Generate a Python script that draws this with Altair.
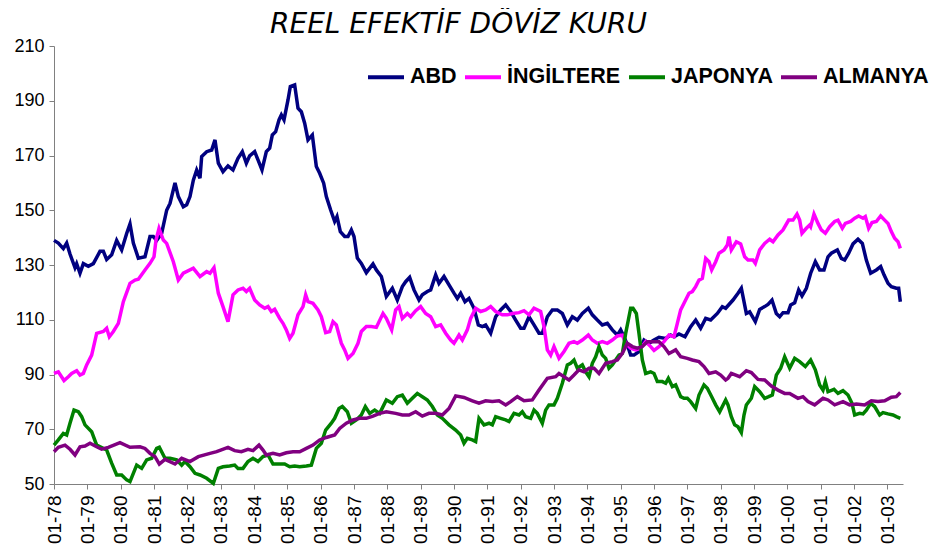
import altair as alt
import pandas as pd

series_names = ["ABD", "İNGİLTERE", "JAPONYA", "ALMANYA"]
series_colors = ["#000080", "#FF00FF", "#008000", "#800080"]
tick_years = list(range(1978, 2004))
y_ticks = [50, 70, 90, 110, 130, 150, 170, 190, 210]

abd_t = [1978.00, 1978.13, 1978.28, 1978.38, 1978.48, 1978.63, 1978.68, 1978.78, 1978.88, 1979.03,
         1979.18, 1979.38, 1979.48, 1979.58, 1979.73, 1979.88, 1980.03, 1980.18, 1980.28, 1980.38,
         1980.53, 1980.73, 1980.88, 1980.98, 1981.08, 1981.23, 1981.38, 1981.48, 1981.63, 1981.73,
         1981.88, 1981.98, 1982.08, 1982.18, 1982.28, 1982.38, 1982.43, 1982.58, 1982.73, 1982.83,
         1982.93, 1983.07, 1983.22, 1983.37, 1983.52, 1983.65, 1983.77, 1983.87, 1984.02, 1984.12,
         1984.24, 1984.37, 1984.47, 1984.55, 1984.65, 1984.75, 1984.82, 1984.90, 1985.02, 1985.09,
         1985.22, 1985.32, 1985.42, 1985.52, 1985.62, 1985.75, 1985.87, 1985.97, 1986.09, 1986.17,
         1986.30, 1986.42, 1986.49, 1986.59, 1986.72, 1986.82, 1986.92, 1987.00, 1987.10, 1987.22,
         1987.37, 1987.57, 1987.67, 1987.82, 1987.97, 1988.15, 1988.30, 1988.45, 1988.55, 1988.67,
         1988.80, 1988.95, 1989.05, 1989.20, 1989.30, 1989.45, 1989.55, 1989.70, 1989.85, 1990.00,
         1990.10, 1990.20, 1990.33, 1990.45, 1990.60, 1990.73, 1990.85, 1990.95, 1991.10, 1991.25,
         1991.40, 1991.55, 1991.70, 1991.85, 1992.00, 1992.10, 1992.25, 1992.40, 1992.55, 1992.65,
         1992.80, 1992.95, 1993.10, 1993.25, 1993.40, 1993.55, 1993.70, 1993.85, 1994.03, 1994.15,
         1994.30, 1994.45, 1994.60, 1994.75, 1994.90, 1995.00, 1995.10, 1995.20, 1995.30, 1995.40,
         1995.55, 1995.70, 1995.85, 1996.00, 1996.15, 1996.35, 1996.50, 1996.60, 1996.75, 1996.93,
         1997.10, 1997.25, 1997.40, 1997.55, 1997.70, 1997.90, 1998.05, 1998.15, 1998.37, 1998.52,
         1998.62, 1998.77, 1998.87, 1999.04, 1999.17, 1999.32, 1999.42, 1999.54, 1999.67, 1999.77,
         1999.87, 2000.02, 2000.10, 2000.22, 2000.34, 2000.44, 2000.57, 2000.70, 2000.84, 2000.97,
         2001.10, 2001.22, 2001.32, 2001.50, 2001.62, 2001.72, 2001.84, 2001.97, 2002.12, 2002.25,
         2002.37, 2002.50, 2002.67, 2002.80, 2002.90, 2003.02, 2003.12, 2003.27, 2003.34, 2003.39]
abd_v = [139, 138, 136, 138, 134, 129, 130.5, 127, 130.5, 129.5,
         130.5, 135, 135, 132, 133.7, 139, 135.5, 141.5, 145, 138,
         132.5, 133, 140.4, 140.4, 139, 141.6, 150, 152.5, 160, 155,
         151.3, 152, 155, 161, 164.7, 161.7, 169.6, 171.4, 172, 175.7,
         167.2, 164.1, 166.2, 164.7, 169, 171.4, 167.2, 169.9, 171.4, 168.4,
         164.7, 171.4, 172.7, 177.5, 178.7, 183, 184.8, 183, 190.3, 195.2,
         195.8, 187.3, 186, 181.8, 175.7, 177.5, 166, 163.5, 159.9, 155,
         150.1, 145.9, 147.7, 142.2, 140.4, 140.4, 142.8, 140.4, 132.5, 130.6,
         127.2, 130.4, 128.2, 125.8, 118.5, 121.5, 117.2, 122.1, 123.9, 125.5,
         120.9, 117.2, 119.1, 120.3, 120.9, 126.4, 123.3, 125.8, 122.7, 119.7,
         117.8, 119.7, 116.6, 117.8, 114.2, 108.1, 107.5, 108.1, 105.1, 111.1,
         113.6, 115.4, 113, 109.9, 106.9, 106.9, 111.1, 108.1, 105.1, 105.1,
         111.1, 113.6, 113.6, 112.3, 108.1, 111.1, 109.9, 112.3, 114.2, 111.8,
         109.9, 108.1, 108.7, 106.3, 104.4, 106.3, 103.8, 100.8, 97.1, 97.1,
         98.4, 102.6, 101.4, 102.6, 103.6, 103.2, 104.4, 103.8, 104.8, 103.8,
         107.5, 109.9, 106.9, 110.5, 109.9, 112.3, 114.8, 114.2, 117.2, 119.7,
         121.5, 112.3, 112.9, 109.3, 113.8, 114.8, 115.6, 117.2, 112.3, 111.1,
         112.6, 112.6, 115.4, 116.2, 120.9, 118.7, 121.5, 127, 131.2, 128.2,
         128.2, 133, 134.3, 135.5, 132.4, 131.8, 134.3, 137.7, 139.4, 137.9,
         131.8, 127, 128.2, 129.4, 126.4, 123.3, 122.1, 121.5, 121.5, 116.6]

ing_t = [1978.00, 1978.13, 1978.30, 1978.43, 1978.53, 1978.68, 1978.78, 1978.88, 1978.98, 1979.13,
         1979.28, 1979.48, 1979.58, 1979.66, 1979.78, 1979.93, 1980.08, 1980.28, 1980.43, 1980.53,
         1980.73, 1980.88, 1981.00, 1981.06, 1981.15, 1981.28, 1981.38, 1981.58, 1981.73, 1981.88,
         1982.18, 1982.38, 1982.58, 1982.68, 1982.80, 1982.93, 1983.07, 1983.22, 1983.37, 1983.52,
         1983.67, 1983.77, 1983.87, 1984.02, 1984.17, 1984.32, 1984.42, 1984.52, 1984.62, 1984.77,
         1984.87, 1984.97, 1985.07, 1985.17, 1985.32, 1985.47, 1985.55, 1985.62, 1985.77, 1985.92,
         1986.02, 1986.15, 1986.27, 1986.37, 1986.47, 1986.62, 1986.72, 1986.82, 1986.97, 1987.12,
         1987.22, 1987.37, 1987.52, 1987.67, 1987.87, 1987.97, 1988.13, 1988.25, 1988.35, 1988.45,
         1988.60, 1988.70, 1988.85, 1989.00, 1989.15, 1989.30, 1989.45, 1989.60, 1989.75, 1989.90,
         1990.00, 1990.15, 1990.25, 1990.40, 1990.50, 1990.65, 1990.80, 1990.95, 1991.10, 1991.25,
         1991.45, 1991.60, 1991.75, 1991.95, 1992.10, 1992.25, 1992.40, 1992.60, 1992.70, 1992.80,
         1992.90, 1993.00, 1993.15, 1993.30, 1993.45, 1993.60, 1993.70, 1993.85, 1994.03, 1994.15,
         1994.30, 1994.45, 1994.60, 1994.75, 1994.90, 1995.05, 1995.15, 1995.30, 1995.45, 1995.60,
         1995.75, 1995.90, 1996.00, 1996.15, 1996.30, 1996.45, 1996.60, 1996.70, 1996.80, 1996.90,
         1997.05, 1997.15, 1997.25, 1997.35, 1997.45, 1997.55, 1997.65, 1997.73, 1997.85, 1997.95,
         1998.10, 1998.20, 1998.25, 1998.32, 1998.47, 1998.60, 1998.72, 1998.82, 1998.97, 1999.04,
         1999.17, 1999.32, 1999.47, 1999.57, 1999.72, 1999.87, 2000.04, 2000.17, 2000.29, 2000.37,
         2000.44, 2000.57, 2000.67, 2000.70, 2000.80, 2000.92, 2001.02, 2001.14, 2001.27, 2001.42,
         2001.52, 2001.65, 2001.74, 2001.90, 2002.02, 2002.14, 2002.27, 2002.34, 2002.44, 2002.54,
         2002.67, 2002.80, 2002.92, 2003.02, 2003.12, 2003.22, 2003.32, 2003.39]
ing_v = [90.4, 91, 87.8, 89.2, 90.4, 91.4, 89.8, 90.4, 93.5, 97.1,
         105, 105.7, 106.9, 103.8, 105.7, 108.7, 116.6, 123.3, 124.5, 124.8,
         128.2, 130.6, 133, 139.1, 143.4, 139.1, 137.9, 131.2, 124.5, 127,
         128.8, 125.8, 127.6, 127, 129, 119.7, 114.8, 109.3, 119.1, 120.9,
         121.5, 120.3, 121.5, 117.2, 115.4, 114.2, 114.8, 113, 113.8, 110.5,
         108.7, 106.3, 103.2, 105.1, 111.8, 114.8, 119.1, 116.6, 116, 113.6,
         111.1, 105.3, 105.7, 109.3, 108.1, 101.4, 99, 95.9, 97.7, 101.4,
         105.7, 107.5, 107.5, 107.2, 112.3, 110.5, 106.3, 113.6, 114.8, 110.5,
         112.3, 111.1, 113.3, 114.8, 112.3, 111.1, 107.5, 108.1, 105.1, 102.6,
         101.4, 104.4, 102.6, 106.3, 110.5, 114.2, 113, 113.6, 114.8, 113,
         111.8, 111.8, 112.3, 112.6, 113.3, 111.8, 114.2, 113, 107.5, 99,
         97.1, 100.2, 95.9, 98.4, 101.4, 102, 101.4, 102.6, 104.4, 102.6,
         101.4, 102, 101.4, 102.6, 104.1, 104.4, 101.4, 99.6, 99, 99.6,
         102, 100.2, 98.8, 100.2, 102, 104.4, 103.8, 108.7, 113.6, 116,
         119.7, 120.3, 122.1, 124.5, 125.1, 132.4, 131.2, 128.2, 131.2, 134.3,
         135.5, 137.3, 140.4, 135.5, 138.5, 137.7, 133, 131.8, 131.8, 130.6,
         135.5, 137.9, 139.4, 138.5, 141, 142.8, 146.4, 146.4, 148.6, 146.4,
         141.6, 143.4, 144.6, 144, 148.6, 145.2, 142.8, 141.6, 144, 145.9,
         146.4, 143.4, 145.2, 145.9, 147.1, 147.9, 147.1, 147.7, 143.4, 145.5,
         145.9, 147.9, 146.4, 145.2, 142.2, 139.8, 138.5, 136.1]

jap_t = [1978.00, 1978.13, 1978.28, 1978.38, 1978.48, 1978.60, 1978.73, 1978.83, 1978.93, 1979.13,
         1979.28, 1979.58, 1979.73, 1979.88, 1980.03, 1980.18, 1980.28, 1980.48, 1980.63, 1980.78,
         1980.93, 1981.08, 1981.16, 1981.33, 1981.48, 1981.68, 1981.83, 1981.93, 1982.08, 1982.23,
         1982.38, 1982.58, 1982.78, 1982.93, 1983.07, 1983.27, 1983.42, 1983.52, 1983.67, 1983.82,
         1983.97, 1984.12, 1984.27, 1984.42, 1984.57, 1984.77, 1984.92, 1985.07, 1985.22, 1985.37,
         1985.57, 1985.72, 1985.87, 1986.02, 1986.15, 1986.32, 1986.42, 1986.55, 1986.65, 1986.80,
         1986.92, 1987.07, 1987.22, 1987.34, 1987.47, 1987.62, 1987.77, 1987.97, 1988.15, 1988.30,
         1988.45, 1988.60, 1988.75, 1988.90, 1989.05, 1989.20, 1989.35, 1989.50, 1989.65, 1989.85,
         1990.05, 1990.20, 1990.30, 1990.40, 1990.55, 1990.65, 1990.75, 1990.90, 1991.05, 1991.15,
         1991.25, 1991.40, 1991.55, 1991.65, 1991.80, 1991.95, 1992.05, 1992.15, 1992.30, 1992.40,
         1992.50, 1992.65, 1992.75, 1992.85, 1993.00, 1993.10, 1993.25, 1993.40, 1993.50, 1993.60,
         1993.70, 1993.85, 1993.95, 1994.05, 1994.15, 1994.25, 1994.35, 1994.45, 1994.55, 1994.65,
         1994.75, 1994.85, 1994.95, 1995.05, 1995.15, 1995.23, 1995.30, 1995.37, 1995.47, 1995.55,
         1995.65, 1995.75, 1995.90, 1996.00, 1996.10, 1996.25, 1996.35, 1996.43, 1996.55, 1996.65,
         1996.80, 1996.90, 1997.00, 1997.10, 1997.25, 1997.35, 1997.50, 1997.60, 1997.73, 1997.85,
         1997.97, 1998.15, 1998.22, 1998.32, 1998.42, 1998.52, 1998.62, 1998.70, 1998.77, 1998.92,
         1999.02, 1999.17, 1999.32, 1999.44, 1999.55, 1999.67, 1999.80, 1999.92, 2000.07, 2000.22,
         2000.37, 2000.54, 2000.70, 2000.84, 2000.97, 2001.07, 2001.14, 2001.22, 2001.40, 2001.52,
         2001.67, 2001.82, 2001.94, 2002.02, 2002.17, 2002.27, 2002.37, 2002.50, 2002.62, 2002.77,
         2002.87, 2003.02, 2003.17, 2003.27, 2003.39]
jap_v = [64.2, 66.1, 68.5, 67.9, 72.2, 77, 76.4, 74.6, 71.6, 69.1,
         64.2, 62.4, 57.6, 53.3, 53.3, 51.5, 50.9, 56.9, 55.7, 58.8,
         59.4, 63, 63.4, 59.4, 59.4, 58.8, 56.9, 58.2, 56.3, 53.9,
         53.3, 52.1, 50.2, 55.7, 56.3, 56.6, 56.9, 55.7, 55.7, 58.2,
         59.4, 58.2, 60, 60.6, 57.3, 57.3, 57.3, 56.3, 56.6, 56.3,
         56.6, 56.9, 63, 64.9, 69.7, 72.2, 74, 77.6, 78.3, 76.4,
         72.2, 73.4, 75.2, 78.3, 75.8, 77, 75.8, 80.7, 79.5, 81.9,
         82.5, 79.5, 81.3, 83.1, 81.9, 80.7, 78.3, 75.2, 74, 71.6,
         69.7, 67.9, 64.9, 66.7, 66.1, 65.5, 74, 71.6, 72.2, 71.6,
         74.6, 74, 73.4, 72.8, 75.8, 75.2, 76.4, 74.6, 74, 77,
         75.8, 72.2, 77, 78.9, 78.9, 81.3, 86.8, 93.5, 94.1, 95.3,
         92.3, 93.5, 91, 89.2, 94.1, 96.5, 100.2, 97.1, 95.9, 92.3,
         93.5, 95.3, 97.1, 97.7, 105, 109.9, 114.2, 114.2, 112.3, 105,
         95.3, 90.4, 91, 90.4, 87.4, 87.4, 86.8, 88.6, 85.6, 86.2,
         81.9, 81.3, 81.3, 80.1, 77.6, 82.5, 86.2, 85, 81.9, 78.9,
         76.4, 80.7, 78.9, 74.6, 71.6, 70.9, 68.8, 75.2, 78.9, 81.3,
         85.6, 83.7, 81.3, 81.9, 82.5, 89.8, 92.3, 96.5, 92.3, 95.9,
         94.7, 92.9, 95.3, 91.7, 86.2, 84.3, 87.4, 83.7, 84.6, 83.1,
         84.1, 82.5, 79.5, 75.2, 75.8, 75.6, 77, 79.5, 78.3, 75.2,
         76.1, 75.6, 75.2, 74.6, 74]

alm_t = [1978.00, 1978.13, 1978.33, 1978.48, 1978.63, 1978.78, 1978.93, 1979.08, 1979.28, 1979.43,
         1979.63, 1979.98, 1980.28, 1980.58, 1980.73, 1980.88, 1981.03, 1981.16, 1981.33, 1981.63,
         1981.83, 1982.08, 1982.33, 1982.68, 1982.88, 1983.22, 1983.42, 1983.62, 1983.82, 1983.97,
         1984.15, 1984.27, 1984.37, 1984.57, 1984.77, 1984.97, 1985.17, 1985.37, 1985.57, 1985.77,
         1985.97, 1986.17, 1986.42, 1986.57, 1986.77, 1986.97, 1987.17, 1987.37, 1987.57, 1987.77,
         1987.97, 1988.25, 1988.45, 1988.65, 1988.85, 1989.05, 1989.25, 1989.45, 1989.65, 1989.85,
         1990.05, 1990.30, 1990.55, 1990.75, 1990.95, 1991.15, 1991.35, 1991.55, 1991.70, 1991.90,
         1992.10, 1992.35, 1992.55, 1992.80, 1993.05, 1993.15, 1993.30, 1993.45, 1993.60, 1993.75,
         1993.90, 1994.05, 1994.20, 1994.35, 1994.55, 1994.75, 1994.90, 1995.05, 1995.20, 1995.35,
         1995.50, 1995.65, 1995.80, 1996.00, 1996.15, 1996.30, 1996.45, 1996.65, 1996.80, 1997.00,
         1997.15, 1997.35, 1997.50, 1997.65, 1997.85, 1998.00, 1998.15, 1998.22, 1998.32, 1998.57,
         1998.77, 1998.92, 1999.12, 1999.32, 1999.52, 1999.72, 1999.92, 2000.07, 2000.32, 2000.47,
         2000.62, 2000.82, 2001.07, 2001.22, 2001.42, 2001.67, 2001.87, 2002.07, 2002.32, 2002.52,
         2002.72, 2002.92, 2003.12, 2003.27, 2003.39]
alm_v = [61.8, 63.4, 64.2, 62.7, 60.6, 63.6, 63.9, 64.9, 63.6, 62.7,
         63.4, 65.1, 63.4, 63.6, 63, 61.2, 60, 57.3, 59, 57.3,
         59.4, 58.2, 60, 61.2, 61.8, 63.4, 62.2, 61.8, 62.7, 62.2,
         64.2, 62.4, 60.6, 61.2, 60.6, 61.4, 61.8, 61.8, 63, 64.2,
         66.1, 67, 67.9, 70.3, 72.2, 73.4, 74, 74, 74.8, 75.8,
         76.4, 75.8, 75.2, 75.2, 76.4, 74.8, 75.8, 75.8, 75.2, 77.6,
         82.2, 81.6, 80.4, 79.5, 80.4, 80.1, 80.4, 78.9, 80.1, 81.9,
         80.4, 80.7, 84.3, 88.6, 89.2, 90.4, 89.2, 88, 89.8, 91.7,
         91, 92.3, 92.3, 90.4, 94.1, 94.7, 95.3, 97.7, 101.4, 100.2,
         99.6, 100.2, 102, 102, 102, 100.2, 97.7, 99, 96.5, 95.9,
         95.3, 94.7, 92.9, 90.4, 91, 89.8, 88, 88.6, 90.4, 89.2,
         91.4, 90.7, 88.2, 88, 85.8, 84.3, 83.1, 83.1, 81.3, 81.9,
         80.1, 78.9, 81.3, 80.7, 78.9, 80.1, 78.9, 79.2, 78.9, 80.4,
         80.1, 80.4, 81.7, 81.9, 83.4]

frames = []
for name, ts, vs in [("ABD", abd_t, abd_v), ("İNGİLTERE", ing_t, ing_v),
                     ("JAPONYA", jap_t, jap_v), ("ALMANYA", alm_t, alm_v)]:
    frames.append(pd.DataFrame({"yil": ts, "deger": vs, "ulke": name}))
df = pd.concat(frames, ignore_index=True)

chart = alt.Chart(df).mark_line(strokeWidth=3.5).encode(
    x=alt.X("yil:Q",
            scale=alt.Scale(domain=[1978, 2003.47], nice=False, zero=False),
            axis=alt.Axis(values=tick_years, title=None, grid=False,
                          labelExpr="'01-' + slice(toString(datum.value), 2)",
                          labelAngle=270, labelAlign="right", labelBaseline="middle",
                          labelPadding=6, tickSize=5, labelFontSize=19,
                          labelOverlap=False, labelFlush=False)),
    y=alt.Y("deger:Q",
            scale=alt.Scale(domain=[50, 210], nice=False, zero=False),
            axis=alt.Axis(values=y_ticks, title=None, grid=False,
                          labelPadding=5, tickSize=5, labelFontSize=18)),
    color=alt.Color("ulke:N",
                    scale=alt.Scale(domain=series_names, range=series_colors),
                    legend=alt.Legend(title=None, orient="none", direction="horizontal",
                                      legendX=312, legendY=11, symbolType="stroke",
                                      symbolSize=1296, symbolStrokeWidth=4,
                                      labelFont="Liberation Sans",
                                      labelFontWeight="bold", labelFontSize=21.5,
                                      labelColor="black", labelOffset=4,
                                      columnPadding=0, padding=0, labelLimit=300)),
    detail="ulke:N",
).properties(
    width=849,
    height=438,
    autosize=alt.AutoSizeParams(type="none"),
    padding={"left": 46, "top": 38, "right": 32, "bottom": 60},
    title=alt.TitleParams(text="REEL EFEKTİF DÖVİZ KURU", font="DejaVu Sans",
                          fontStyle="italic", fontWeight="normal", fontSize=28,
                          color="black", anchor="middle", dx=-20, offset=-2),
).configure_view(stroke=None).configure_axis(
    domainColor="#808080", tickColor="#808080", labelColor="black",
    labelFont="Liberation Sans",
)

chart.save("out.html", embed_options={"renderer": "svg", "actions": False})
